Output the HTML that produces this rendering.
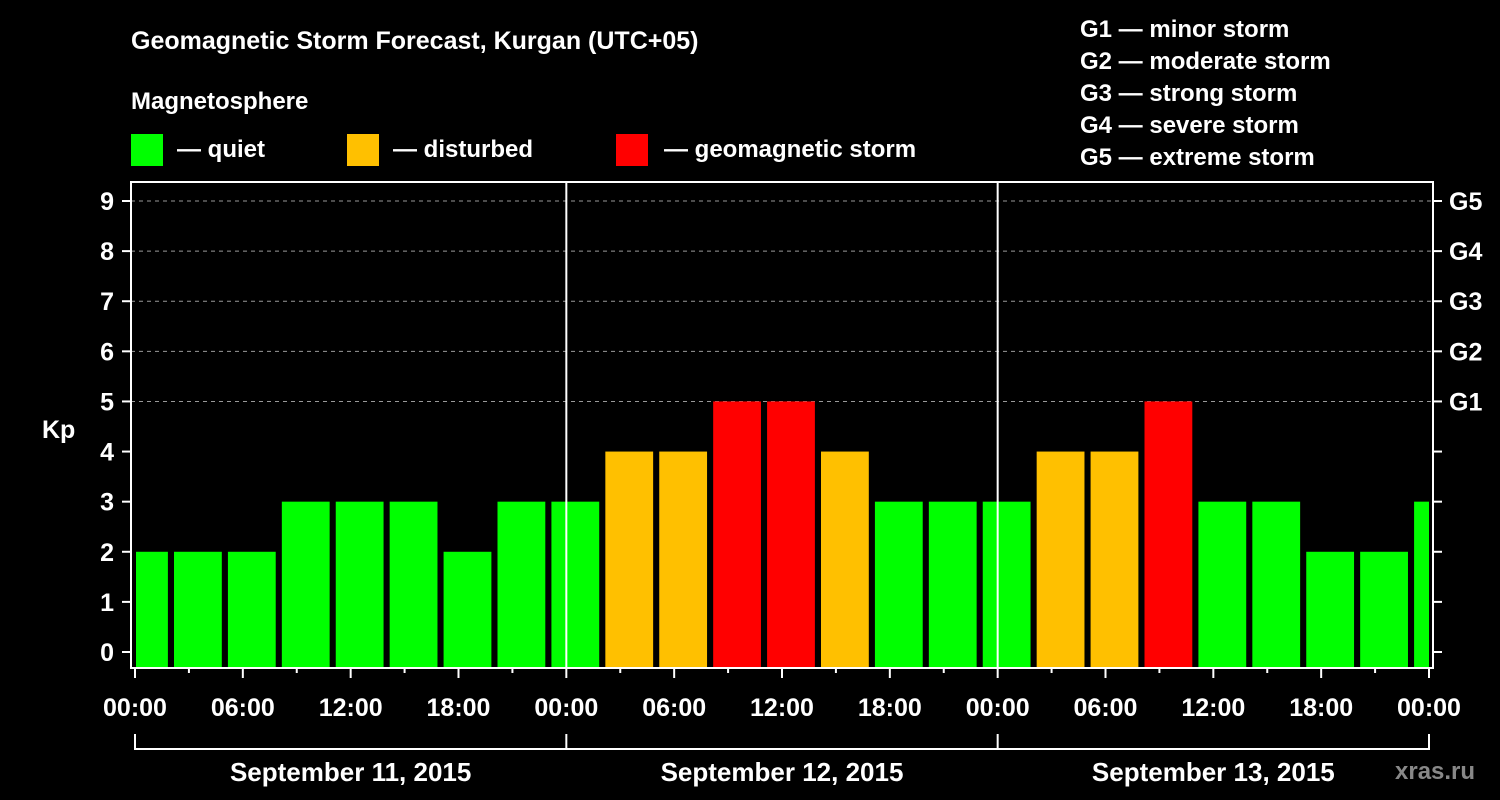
<!DOCTYPE html>
<html><head><meta charset="utf-8"><style>
body{margin:0;background:#000;}
svg{display:block;font-family:"Liberation Sans",Arial,sans-serif;font-weight:bold;}
</style></head><body>
<svg id="c" width="1500" height="800" viewBox="0 0 1500 800">
<rect width="1500" height="800" fill="#000"/>
<text x="131" y="49" fill="#fff" font-size="25">Geomagnetic Storm Forecast, Kurgan (UTC+05)</text>
<text x="131" y="109" fill="#fff" font-size="24">Magnetosphere</text>
<g><rect x="131" y="134" width="32" height="32" fill="#00ff00"/><text x="177" y="157" fill="#fff" font-size="24">— quiet</text></g>
<g><rect x="347" y="134" width="32" height="32" fill="#ffc000"/><text x="393" y="157" fill="#fff" font-size="24">— disturbed</text></g>
<g><rect x="616" y="134" width="32" height="32" fill="#ff0000"/><text x="664" y="157" fill="#fff" font-size="24">— geomagnetic storm</text></g>
<g fill="#fff" font-size="24">
<text x="1080" y="37">G1 — minor storm</text>
<text x="1080" y="69">G2 — moderate storm</text>
<text x="1080" y="101">G3 — strong storm</text>
<text x="1080" y="133">G4 — severe storm</text>
<text x="1080" y="165">G5 — extreme storm</text>
</g>
<text x="42" y="438" fill="#fff" font-size="25">Kp</text>
<text x="1395" y="779" fill="#888" font-size="24">xras.ru</text>
<g id="grid"></g><g id="bars"></g><g id="axes"></g>
</svg>
<script>
const kpValues=[2,2,2,3,3,3,2,3,3,4,4,5,5,4,3,3,3,4,4,5,3,3,2,2,3];
const yTicks=[0,1,2,3,4,5,6,7,8,9];
const gLabels=["G1","G2","G3","G4","G5"];
const xTickLabels=["00:00","06:00","12:00","18:00","00:00","06:00","12:00","18:00","00:00","06:00","12:00","18:00","00:00"];
const dayLabels=["September 11, 2015","September 12, 2015","September 13, 2015"];
const NS="http://www.w3.org/2000/svg";
const L=131,R=1433,T=182,B=668,X0=135,X1=1429;
const xs=h=>X0+h*(X1-X0)/72;
const ys=v=>652-v*(652-201)/9;
function mk(parent,tag,attrs,text){const e=document.createElementNS(NS,tag);for(const k in attrs)e.setAttribute(k,attrs[k]);if(text!==undefined)e.textContent=text;document.getElementById(parent).appendChild(e);return e;}
function col(v){return v>=5?"#ff0000":v>=4?"#ffc000":"#00ff00";}
for(let v=5;v<=9;v++){const g=mk("grid","line",{x1:L,x2:R,y1:ys(v),y2:ys(v),stroke:"#999","stroke-dasharray":"4,4","stroke-width":1});

}
kpValues.forEach((v,i)=>{const c=0.5+3*i;let x1=xs(c-1.33),x2=xs(c+1.33);x1=Math.max(x1,136);x2=Math.min(x2,X1);
const r=mk("bars","rect",{x:x1,y:ys(v),width:Math.max(0,x2-x1),height:B-ys(v),fill:col(v)});

});
mk("axes","rect",{x:L,y:T,width:R-L,height:B-T,fill:"none",stroke:"#fff","stroke-width":2});
[24,48].forEach(h=>{const l=mk("axes","line",{x1:xs(h),x2:xs(h),y1:T,y2:B,stroke:"#fff","stroke-width":2});

});
yTicks.forEach(v=>{mk("axes","line",{x1:L-9,x2:L,y1:ys(v),y2:ys(v),stroke:"#fff","stroke-width":2});
mk("axes","line",{x1:R,x2:R+9,y1:ys(v),y2:ys(v),stroke:"#fff","stroke-width":2});
const t=mk("axes","text",{x:L-17,y:ys(v)+9,fill:"#fff","font-size":25,"text-anchor":"end"},v);

});
gLabels.forEach((g,i)=>{const t=mk("axes","text",{x:1449,y:ys(5+i)+9,fill:"#fff","font-size":25},g);

});
for(let h=0;h<=72;h+=3){const major=h%6===0;mk("axes","line",{x1:xs(h),x2:xs(h),y1:B+1,y2:B+(major?10:5),stroke:"#fff","stroke-width":2});}
xTickLabels.forEach((s,i)=>{const t=mk("axes","text",{x:xs(i*6),y:716,fill:"#fff","font-size":25,"text-anchor":"middle"},s);

});
mk("axes","path",{d:`M${xs(0)},734V749H${xs(72)}V734`,fill:"none",stroke:"#fff","stroke-width":2});
[24,48].forEach(h=>mk("axes","line",{x1:xs(h),x2:xs(h),y1:734,y2:749,stroke:"#fff","stroke-width":2}));
dayLabels.forEach((s,i)=>{const t=mk("axes","text",{x:xs(i*24+12),y:781,fill:"#fff","font-size":26,"text-anchor":"middle"},s);

});
</script>
</body></html>
